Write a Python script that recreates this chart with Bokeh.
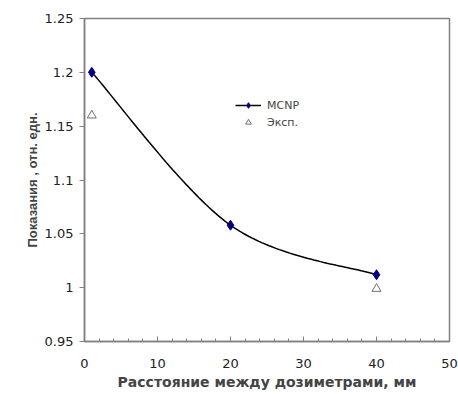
import numpy as np
from bokeh.plotting import figure
from bokeh.models import (Range1d, FixedTicker, Legend, LegendItem)
from bokeh.embed import file_html
from bokeh.resources import INLINE

# Calculated (MCNP) and measured readings vs. distance between dosimeters
mcnp_x = [1, 20, 40]
mcnp_y = [1.2, 1.058, 1.012]
exp_x = [1, 40]
exp_y = [1.16, 0.999]

x_ticks = [0, 10, 20, 30, 40, 50]
y_ticks = [0.95, 1.0, 1.05, 1.1, 1.15, 1.2, 1.25]
y_tick_labels = ["0.95", "1", "1.05", "1.1", "1.15", "1.2", "1.25"]

TICK_FONT = "DejaVu Sans"
LABEL_FONT = "Liberation Sans"


def smooth(xs, ys, n=50):
    """Catmull-Rom style smoothed line through the points."""
    px = [xs[0]] + list(xs) + [xs[-1]]
    py = [ys[0]] + list(ys) + [ys[-1]]
    ox, oy = [], []
    t = np.linspace(0, 1, n)[:, None]
    for i in range(1, len(px) - 2):
        p0, p1, p2, p3 = (np.array([px[j], py[j]], dtype=float) for j in (i - 1, i, i + 1, i + 2))
        c1 = p1 + (p2 - p0) / 6.0
        c2 = p2 - (p3 - p1) / 6.0
        seg = ((1 - t) ** 3) * p1 + 3 * ((1 - t) ** 2) * t * c1 + 3 * (1 - t) * t ** 2 * c2 + t ** 3 * p2
        ox.extend(seg[:, 0])
        oy.extend(seg[:, 1])
    return ox, oy


p = figure(width=458, height=394, output_backend="svg", toolbar_location=None,
           x_range=Range1d(0, 50), y_range=Range1d(0.95, 1.25),
           min_border_left=84, min_border_right=9, min_border_top=18, min_border_bottom=53)

p.background_fill_color = "white"
p.border_fill_color = "white"
p.outline_line_color = "#808080"
p.outline_line_width = 1.5
p.xgrid.visible = False
p.ygrid.visible = False

sx, sy = smooth(mcnp_x, mcnp_y)
line_r = p.line(sx, sy, line_color="black", line_width=1.5)
dia_r = p.scatter(mcnp_x, mcnp_y, marker="diamond", size=10, fill_color="#000080",
                  line_color="#000080")
tri_r = p.scatter(exp_x, exp_y, marker="triangle", size=9, fill_color=None,
                  line_color="#707070", line_width=1)

# x axis
xa = p.xaxis[0]
xa.ticker = FixedTicker(ticks=x_ticks, minor_ticks=list(range(0, 51, 2)))
xa.axis_line_color = "#808080"
xa.axis_line_width = 1.5
xa.major_tick_in = 5
xa.major_tick_out = 0
xa.minor_tick_in = 3
xa.minor_tick_out = 0
xa.major_tick_line_color = "#808080"
xa.minor_tick_line_color = "#808080"
xa.major_label_text_font = TICK_FONT
xa.major_label_text_font_size = "13px"
xa.major_label_text_color = "#222222"
xa.major_label_standoff = 17
xa.axis_label = "Расстояние между дозиметрами, мм"
xa.axis_label_text_font = "DejaVu Sans"
xa.axis_label_text_font_size = "14px"
xa.axis_label_text_font_style = "bold"
xa.axis_label_standoff = 3

# y axis
ya = p.yaxis[0]
ya.ticker = FixedTicker(ticks=y_ticks, minor_ticks=[])
ya.major_label_overrides = {v: s for v, s in zip(y_ticks, y_tick_labels)}
ya.axis_line_color = "#808080"
ya.axis_line_width = 1.5
ya.major_tick_in = 0
ya.major_tick_out = 5
ya.minor_tick_in = 0
ya.minor_tick_out = 0
ya.major_tick_line_color = "#808080"
ya.major_label_text_font = TICK_FONT
ya.major_label_text_font_size = "13px"
ya.major_label_text_color = "#222222"
ya.major_label_standoff = 6
ya.axis_label = "Показания , отн. едн."
ya.axis_label_text_font = LABEL_FONT
ya.axis_label_text_font_size = "13px"
ya.axis_label_text_font_style = "bold"
ya.axis_label_standoff = 2

legend = Legend(items=[LegendItem(label="MCNP", renderers=[line_r, dia_r]),
                       LegendItem(label="Эксп.", renderers=[tri_r])],
                location=(151, 212), border_line_color=None, background_fill_alpha=0,
                label_text_font=TICK_FONT, label_text_font_size="11px",
                glyph_width=26, glyph_height=14, spacing=3, padding=2,
                label_standoff=6)
p.add_layout(legend)

open("out.html", "w").write(file_html(p, INLINE))
